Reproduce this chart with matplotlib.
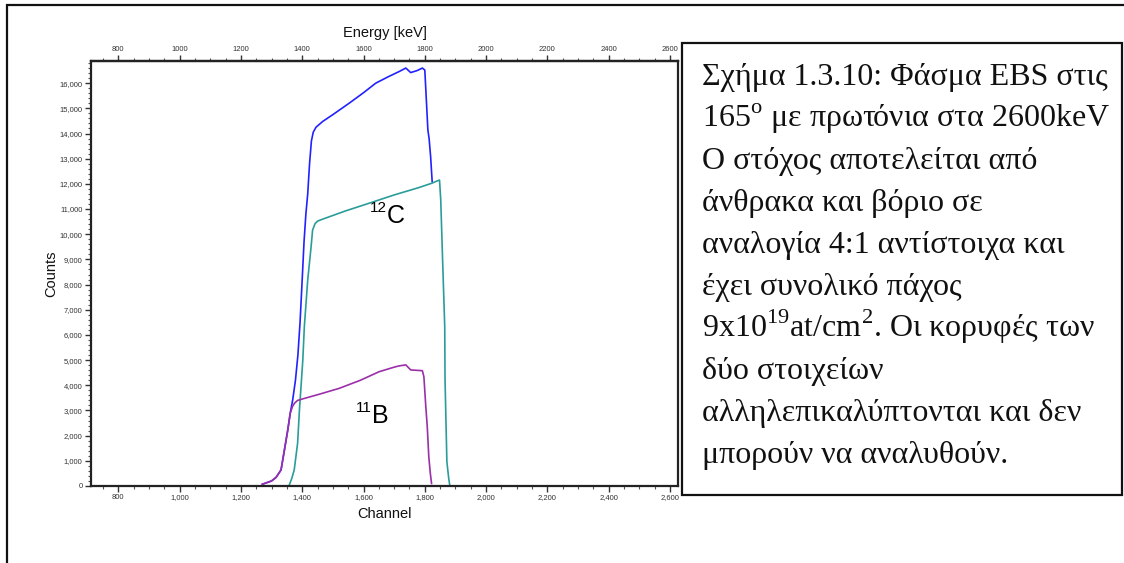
import matplotlib
matplotlib.use("Agg")
import matplotlib.pyplot as plt
from matplotlib.patches import Rectangle
from matplotlib.ticker import MultipleLocator, FuncFormatter

# EBS spectrum, protons at 2600 keV, detector at 165 deg
total_channel = [1270, 1300, 1315, 1331, 1342, 1353, 1361, 1369, 1378, 1386, 1393,
                 1400, 1406, 1412, 1418, 1424, 1430, 1436, 1445, 1467, 1500, 1554,
                 1600, 1640, 1680, 1716, 1738, 1754, 1775, 1792, 1800, 1805, 1810,
                 1814, 1819, 1824]
total_counts = [70, 200, 345, 640, 1430, 2230, 2900, 3420, 4200, 5200, 6500,
                8200, 9700, 10800, 11600, 12800, 13700, 14050, 14250, 14480, 14750, 15210,
                15620, 16000, 16250, 16460, 16600, 16420, 16500, 16600, 16520, 15340, 14140,
                13800, 13080, 12090]

carbon_channel = [1358, 1366, 1374, 1385, 1391, 1402, 1407, 1418, 1429, 1434, 1442,
                  1450, 1467, 1540, 1618, 1700, 1780, 1824, 1841, 1848, 1852, 1857,
                  1865, 1866, 1872, 1878, 1881]
carbon_counts = [40, 300, 640, 1700, 3020, 5000, 6330, 8180, 9500, 10170, 10420,
                 10520, 10600, 10920, 11230, 11560, 11850, 12030, 12120, 12150, 11360, 9380,
                 6330, 4210, 970, 300, 60]

boron_channel = [1270, 1300, 1315, 1331, 1342, 1353, 1361, 1368, 1375, 1385, 1396,
                 1460, 1521, 1590, 1651, 1700, 1716, 1738, 1754, 1792, 1797, 1803,
                 1808, 1813, 1818, 1822]
boron_counts = [70, 200, 345, 640, 1430, 2230, 2890, 3150, 3290, 3400, 3440,
                3660, 3880, 4200, 4540, 4720, 4770, 4810, 4610, 4580, 4340, 3200,
                2360, 1160, 500, 100]

caption_lines = [
    "Σχήμα 1.3.10: Φάσμα EBS στις",
    "165$^{\\mathrm{o}}$ με πρωτόνια στα 2600keV",
    "Ο στόχος αποτελείται από",
    "άνθρακα και βόριο σε",
    "αναλογία 4:1 αντίστοιχα και",
    "έχει συνολικό πάχος",
    "9x10$^{\\mathrm{19}}$at/cm$^{\\mathrm{2}}$. Οι κορυφές των",
    "δύο στοιχείων",
    "αλληλεπικαλύπτονται και δεν",
    "μπορούν να αναλυθούν.",
]

plt.rcParams['font.family'] = ['Liberation Sans', 'DejaVu Sans']
plt.rcParams['mathtext.fontset'] = 'custom'
plt.rcParams['mathtext.rm'] = 'Liberation Serif'

W, H = 1124, 563
fig = plt.figure(figsize=(W / 100, H / 100), dpi=100)
ax = fig.add_axes([91 / W, 1 - 486 / H, 587 / W, 425 / H])

ax.plot(total_channel, total_counts, color='#2222ff', lw=1.2)
ax.plot(carbon_channel, carbon_counts, color='#2a9d9a', lw=1.2)
ax.plot(boron_channel, boron_counts, color='#9b2fa9', lw=1.2)

ax.set_xlim(711, 2626)
ax.set_ylim(0, 16880)

ax.xaxis.set_major_locator(MultipleLocator(200))
ax.xaxis.set_minor_locator(MultipleLocator(50))
ax.yaxis.set_major_locator(MultipleLocator(1000))
ax.yaxis.set_minor_locator(MultipleLocator(200))
ax.xaxis.set_major_formatter(FuncFormatter(lambda v, p: f"{v:,.0f}"))
ax.yaxis.set_major_formatter(FuncFormatter(lambda v, p: f"{v:,.0f}"))

for s in ax.spines.values():
    s.set_linewidth(1.6)
    s.set_color('#222222')

ax.tick_params(which='major', direction='out', length=4, width=1, color='#333333',
               labelsize=5.5, labelcolor='#333333', pad=2)
ax.tick_params(which='minor', direction='out', length=2, width=0.8, color='#555555')

ax.set_xlabel('Channel', fontsize=10.5, color='#111111', labelpad=4)
ax.set_ylabel('Counts', fontsize=10.5, color='#111111', labelpad=1)

top = ax.secondary_xaxis('top')
top.xaxis.set_major_locator(MultipleLocator(200))
top.xaxis.set_minor_locator(MultipleLocator(50))
top.xaxis.set_major_formatter(FuncFormatter(lambda v, p: f"{v:.0f}"))
top.tick_params(which='major', direction='out', length=4, width=1, color='#333333',
                labelsize=5.5, labelcolor='#333333', pad=2)
top.tick_params(which='minor', direction='out', length=2, width=0.8, color='#555555')
top.spines['top'].set_linewidth(1.6)
top.set_xlabel('Energy [keV]', fontsize=10.5, color='#111111', labelpad=6)

# isotope labels
ax.text(1677, 10450, 'C', fontsize=18, ha='left', va='baseline')
ax.annotate('12', xy=(1677, 10450), xytext=(-0.5, 8), textcoords='offset points',
            fontsize=11, ha='right', va='baseline')
ax.text(1628, 2500, 'B', fontsize=18, ha='left', va='baseline')
ax.annotate('11', xy=(1628, 2500), xytext=(-0.5, 8), textcoords='offset points',
            fontsize=11, ha='right', va='baseline')

# outer frame (runs off the right and bottom edges) and caption box
fig.add_artist(Rectangle((7 / W, -0.2), 1.2, (563 - 5) / H + 0.2,
                         transform=fig.transFigure, fill=False, lw=1.6,
                         edgecolor='#111111'))
fig.add_artist(Rectangle((682 / W, 1 - 495 / H), (1122 - 682) / W, (495 - 43) / H,
                         transform=fig.transFigure, facecolor='white', lw=1.6,
                         edgecolor='#111111'))

for i, line in enumerate(caption_lines):
    fig.text(702 / W, 1 - (85 + 42 * i) / H, line, fontsize=23,
             family='Liberation Serif', ha='left', va='baseline', color='#111111')

fig.savefig('out.png', dpi=100)
